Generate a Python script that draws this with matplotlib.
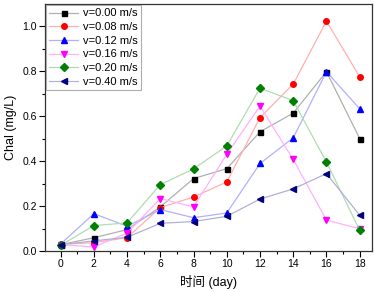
import matplotlib
matplotlib.use("Agg")
import matplotlib.pyplot as plt
from matplotlib.ticker import MultipleLocator

plt.rcParams['font.family'] = ['Liberation Sans', 'Noto Sans CJK SC', 'DejaVu Sans']

days = [0, 2, 4, 6, 8, 10, 12, 14, 16, 18]
labels = ["v=0.00 m/s", "v=0.08 m/s", "v=0.12 m/s", "v=0.16 m/s", "v=0.20 m/s", "v=0.40 m/s"]
v000 = [0.028, 0.059, 0.095, 0.196, 0.322, 0.366, 0.530, 0.613, 0.797, 0.500]
v008 = [0.030, 0.037, 0.059, 0.193, 0.240, 0.307, 0.593, 0.742, 1.022, 0.774]
v012 = [0.031, 0.166, 0.110, 0.184, 0.148, 0.169, 0.389, 0.503, 0.797, 0.632]
v016 = [0.028, 0.018, 0.080, 0.233, 0.196, 0.430, 0.644, 0.407, 0.137, 0.099]
v020 = [0.025, 0.113, 0.125, 0.295, 0.365, 0.467, 0.724, 0.668, 0.395, 0.092]
v040 = [0.028, 0.045, 0.061, 0.123, 0.131, 0.154, 0.231, 0.276, 0.344, 0.159]

series = [v000, v008, v012, v016, v020, v040]
colors = ["black", "red", "blue", "magenta", "green", "navy"]
line_colors = ["#b0b0b0", "#ffb0b0", "#b0b0ff", "#ffb0ff", "#b0dcb0", "#b0b0d8"]
markers = ["s", "o", "^", "v", "D", "<"]
msizes = [3.6, 4.0, 4.2, 4.2, 3.6, 4.2]

fig = plt.figure(figsize=(3.76, 2.92), dpi=100)
ax = fig.add_axes([45/376, 1 - 251/292, (372-45)/376, (251-4)/292])

for ys, c, lc, m, ms, lab in zip(series, colors, line_colors, markers, msizes, labels):
    ax.plot(days, ys, color=lc, lw=0.9, marker=m, markersize=ms,
            markerfacecolor=c, markeredgecolor=c, label=lab)

ax.set_xlim(-0.94, 18.74)
ax.set_ylim(0, 1.098)
ax.xaxis.set_major_locator(MultipleLocator(2))
ax.xaxis.set_minor_locator(MultipleLocator(1))
ax.yaxis.set_major_locator(MultipleLocator(0.2))
ax.yaxis.set_minor_locator(MultipleLocator(0.1))
ax.yaxis.set_major_formatter(matplotlib.ticker.FormatStrFormatter('%.1f'))
ax.tick_params(which='major', direction='out', length=4, width=0.8, labelsize=7.5, pad=2)
ax.tick_params(which='minor', direction='out', length=2, width=0.8)
for s in ax.spines.values():
    s.set_linewidth(0.9)
    s.set_color('#333333')

ax.set_ylabel("Chal (mg/L)", fontsize=9, labelpad=4)
ax.set_xlabel("时间 (day)", fontsize=9, labelpad=4)

leg = ax.legend(loc='upper left', fontsize=8, frameon=True, fancybox=False,
                edgecolor='#999999', borderaxespad=0.1, handlelength=2.6,
                handletextpad=0.4, labelspacing=0.33, borderpad=0.3)
leg.get_frame().set_linewidth(0.8)

fig.savefig("out.png", dpi=100)
